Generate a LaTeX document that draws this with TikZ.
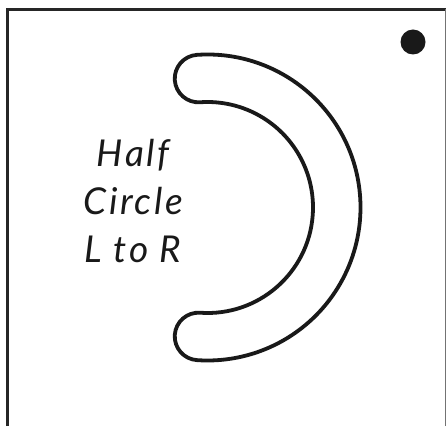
\documentclass[tikz,border=0pt]{standalone}
\usepackage{fontspec}
\setmainfont{Lato}
\usetikzlibrary{calc}
\begin{document}
\begin{tikzpicture}[x=1pt,y=1pt,
  frame/.style={line width=3pt,color=black!85},
  band/.style={line width=3.8pt,color=black!90,line join=round},
  hand/.style={font=\fontsize{37}{44}\selectfont\itshape\addfontfeature{LetterSpace=7},anchor=base,inner sep=0pt,text=black!90}]
\useasboundingbox (0,0) rectangle (447,426);
% frame (open at bottom)
\draw[frame] (7.5,0) -- (7.5,416.5) -- (446,416.5);
\draw[line width=1.3pt,color=black!55] (445.5,0) -- (445.5,416.5);
% dot
\fill[black!90] (413,384) circle (12.5);
% half-circle band
\coordinate (c) at (207.5,218.5);
\draw[band] ($(c)+(94:153)$)
  arc[start angle=94,end angle=-94,radius=153]
  arc[start angle=-94,end angle=-274,radius=23.75]
  arc[start angle=-94,end angle=94,radius=105.5]
  arc[start angle=274,end angle=94,radius=23.75]
  -- cycle;
% text
\node[hand] (t1) at (133,259) {Half};
\node[hand] (t2) at (133,211) {Circle};
\node[hand] (t3) at (133,163) {L to R};
\end{tikzpicture}
\end{document}
